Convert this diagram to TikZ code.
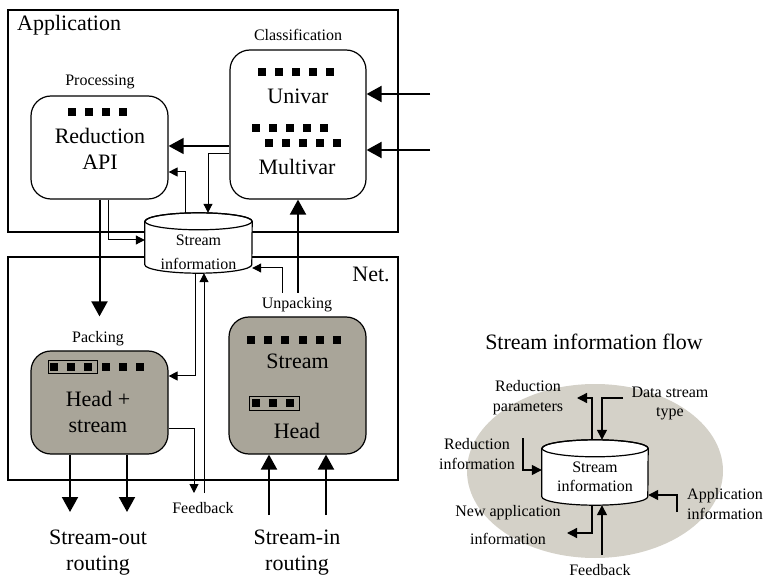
\documentclass[tikz,border=0pt]{standalone}
\usepackage{fontspec}
\setmainfont{Liberation Serif}
\usetikzlibrary{arrows.meta, positioning, calc}
\definecolor{boxgray}{HTML}{A9A599}
\definecolor{ellgray}{HTML}{D4D1C8}
% row of small black squares: first x, y, count, spacing
\newcommand{\dotrow}[4]{\foreach \i in {1,...,#3} \fill ({#1+(\i-1)*#4-4},{#2-4}) rectangle ++(8,8);}
% cylinder outline round a node: name, x radius, y radius
\newcommand{\drawcyl}[3]{%
  \draw[line width=1.2pt, fill=white] ([yshift=-#3]#1.north west) -- ([yshift=#3]#1.south west)
    arc[start angle=180, end angle=360, x radius=#2, y radius=#3]
    -- ([yshift=-#3]#1.north east) arc[start angle=0, end angle=180, x radius=#2, y radius=#3] -- cycle;
  \draw[line width=1.2pt] ([yshift=-#3]#1.north) ellipse [x radius=#2, y radius=#3];}

\begin{document}
\begin{tikzpicture}[x=1pt, y=-1pt,
  blk/.style={draw, line width=1.2pt, rounded corners=20pt, inner sep=0pt},
  frm/.style={draw, line width=1.2pt},
  cyl/.style={inner sep=0pt},
  thk/.style={line width=2pt, -{Triangle[length=15pt, width=16pt]}},
  thn/.style={line width=1pt, -{Triangle[length=9pt, width=9pt]}},
  mid/.style={line width=1.3pt, -{Triangle[length=10pt, width=10pt]}},
  small/.style={font=\fontsize{16}{19.5}\selectfont, inner sep=0pt, align=center},
  big/.style={font=\fontsize{22}{26}\selectfont, inner sep=0pt, align=center}]
  \useasboundingbox (0,0) rectangle (766,577);

  % layers
  \draw[frm] (8,10) rectangle (398,232);
  \draw[frm] (8,257) rectangle (398,480);
  \node[big, anchor=base west] (tapp) at (17,31) {Application};
  \node[big, anchor=base] (tnet) at (371,282) {Net.};

  % application side
  \node[small, anchor=base] (tcls) at (298,41) {Classification};
  \node[blk, minimum width=136pt, minimum height=149pt] (cls) at (298,124.5) {};
  \dotrow{262}{72}{5}{17}
  \node[big, anchor=base] (tuni) at (298,104) {Univar};
  \dotrow{256}{128}{5}{17}
  \dotrow{269}{143}{5}{17}
  \node[big, anchor=base] (tmul) at (297,175) {Multivar};

  \node[small, anchor=base] (tproc) at (100,86) {Processing};
  \node[blk, minimum width=137pt, minimum height=103pt] (proc) at (99.5,147.5) {};
  \dotrow{72}{112}{4}{17}
  \node[big] (tred) at (100,148.5) {Reduction\\API};

  % stream information store
  \node[cyl, minimum width=107pt, minimum height=60pt] (sinf) at (198.5,243) {};
  \drawcyl{sinf}{53.5pt}{8.5pt}
  \node[small] (tsi) at (198.5,252.5) {Stream\\[4pt]information};

  % network side
  \node[small, anchor=base] (tpack) at (98,343) {Packing};
  \node[blk, fill=boxgray, minimum width=137pt, minimum height=103pt] (pack) at (99.5,402.5) {};
  \draw[line width=1pt] (48,361) rectangle (97,374);
  \dotrow{54}{367}{6}{17.2}
  \node[big] (thead) at (98,411.5) {Head +\\stream};

  \node[small, anchor=base] (tunp) at (297,309) {Unpacking};
  \node[blk, fill=boxgray, minimum width=137pt, minimum height=137pt] (unp) at (297.5,385.5) {};
  \dotrow{251}{340}{6}{17.2}
  \node[big, anchor=base] (tstr) at (297.5,369) {Stream};
  \draw[line width=1pt] (249,396) rectangle (299,410);
  \dotrow{256}{403}{3}{17}
  \node[big, anchor=base] (thd) at (297,438) {Head};

  \node[small, anchor=base] (tfb) at (203,513) {Feedback};
  \node[big] (tout) at (98,553) {Stream-out\\routing};
  \node[big] (tin) at (297,553) {Stream-in\\routing};

  % connectors
  \coordinate (in1) at (430,94);
  \coordinate (in2) at (430,150);
  \draw[thk] (in1) -- (in1 -| cls.east);
  \draw[thk] (in2) -- (in2 -| cls.east);
  \draw[thk, line width=1.5pt] (cls.west |- 0,146) -- (proc.east |- 0,146);
  \draw[thn] (cls.west |- 0,154) -| ([xshift=9.5pt]sinf.north);
  \draw[thn] ([xshift=-13.5pt]sinf.north) |- (proc.east |- 0,172);
  \draw[thn] ([xshift=8.5pt]proc.south) |- (sinf.west |- 0,240);
  \draw[thk] (proc.south) -- ([yshift=34pt]pack.north);
  \coordinate (u1) at (282,293);
  \coordinate (u2) at (298,293);
  \draw[thn] (u1) |- (sinf.east |- 0,268);
  \draw[thk] (u2) -- (cls.south);
  \draw[thn] ([xshift=-3.5pt]sinf.south) |- (pack.east |- 0,376);
  \coordinate (fb1) at (204,493);
  \coordinate (fb2) at (194,493);
  \draw[thn] (fb1) -- ([xshift=5.5pt]sinf.south);
  \draw[thn] (pack.east |- 0,428) -| (fb2);
  \draw[thk] (pack.south -| 70,0) -- (70,512);
  \draw[thk] (pack.south -| 127,0) -- (127,512);
  \draw[thk] (269,515) -- (unp.south -| 269,0);
  \draw[thk] (326,515) -- (unp.south -| 326,0);

  % stream information flow
  \node[big, anchor=base] (tflow) at (594,350) {Stream information flow};
  \fill[ellgray] (595,471) ellipse [x radius=128pt, y radius=87pt];
  \node[cyl, minimum width=106pt, minimum height=65pt] (sinf2) at (595,472.5) {};
  \drawcyl{sinf2}{53pt}{8.5pt}
  \node[small] (tsi2) at (595,477) {Stream\\information};
  \node[small] (trp) at (528,397.7) {Reduction\\parameters};
  \node[small] (tdst) at (670,403.7) {Data stream\\type};
  \node[small] (tri) at (477,454) {Reduction\\information};
  \node[small, anchor=west, align=left] (tai) at (687,504) {Application\\information};
  \node[small] (tnai) at (508,525) {New application\\[9pt]information};
  \node[small, anchor=base] (tfb2) at (600,575) {Feedback};
  \draw[mid] ([xshift=-3pt]sinf2.north) |- (577,398);
  \draw[mid] (623,398) -| ([xshift=7pt]sinf2.north);
  \draw[mid] (523,438) |- (sinf2.west |- 0,470);
  \draw[mid] (677,512) |- (sinf2.east |- 0,495);
  \draw[mid] ([xshift=-3pt]sinf2.south) |- (567,533);
  \draw[mid] (602,555) -- ([xshift=7pt]sinf2.south);
\end{tikzpicture}
\end{document}
